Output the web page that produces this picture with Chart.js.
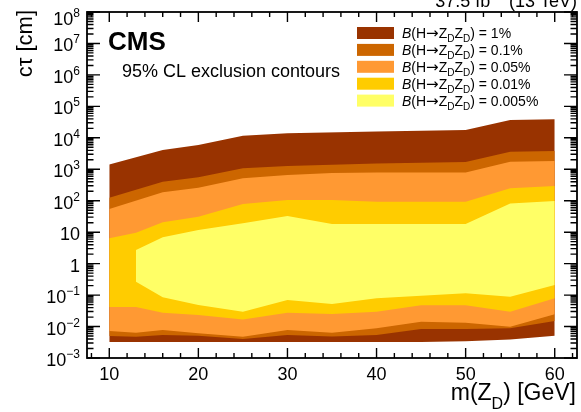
<!DOCTYPE html>
<html>
<head>
<meta charset="utf-8">
<script src="https://cdn.jsdelivr.net/npm/chart.js@4.4.1/dist/chart.umd.min.js"></script>
<style>
    html, body { margin: 0; padding: 0; background: #fff; }
    canvas { display: block; }
</style>
</head>
<body>
<canvas id="contourChart" width="581" height="412"></canvas>
<script>
// Contour boundaries, m(Z_D) in GeV and c*tau in cm
// B = 1%
const M_UP_1 = [10, 16, 20, 25, 30, 40, 50, 55, 60];
const CT_UP_1 = [1430, 4100, 5900, 11700, 13900, 15800, 17700, 36800, 38700];
const M_LO_1 = [10, 45, 50, 55, 60];
const CT_LO_1 = [3.2e-3, 3.2e-3, 3.4e-3, 3.9e-3, 5.1e-3];

// B = 0.1%
const M_UP_01 = [10, 16, 20, 25, 30, 40, 50, 55, 60];
const CT_UP_01 = [124, 402, 555, 1070, 1270, 1520, 1700, 3610, 3800];
const M_LO_01 = [10, 13, 16, 20, 25, 30, 35, 40, 45, 50, 55, 60];
const CT_LO_01 = [5.0e-3, 4.7e-3, 5.4e-3, 5.1e-3, 4.0e-3, 5.4e-3, 4.8e-3, 5.4e-3, 8.3e-3, 8.3e-3, 8.8e-3, 1.5e-2];

// B = 0.05%
const M_UP_005 = [10, 16, 20, 25, 30, 35, 40, 45, 50, 55, 60];
const CT_UP_005 = [54.5, 185, 259, 515, 656, 760, 788, 788, 788, 1740, 1830];
const M_LO_005 = [10, 13, 16, 20, 25, 30, 35, 40, 45, 50, 55, 60];
const CT_LO_005 = [7.2e-3, 6.35e-3, 7.7e-3, 6.1e-3, 4.7e-3, 7.7e-3, 6.4e-3, 8.9e-3, 1.42e-2, 1.32e-2, 9.9e-3, 2.44e-2];

// B = 0.01%
const M_UP_001 = [10, 13, 16, 20, 25, 30, 35, 40, 45, 50, 55, 60];
const CT_UP_001 = [6.37, 9.6, 20.6, 31, 78.6, 105, 105, 93, 93, 93, 248, 293];
const M_LO_001 = [10, 13, 16, 20, 25, 30, 35, 40, 45, 50, 55, 60];
const CT_LO_001 = [0.0417, 0.0417, 0.0275, 0.0232, 0.0169, 0.0275, 0.025, 0.0296, 0.0472, 0.0472, 0.0296, 0.0788];

// B = 0.005%
const M_UP_0005 = [13, 16, 20, 25, 30, 35, 40, 45, 50, 55, 60];
const CT_UP_0005 = [2.7, 6.86, 11.7, 19.1, 32.6, 18.2, 18.2, 18.2, 18.2, 81.5, 97.8];
const M_LO_0005 = [13, 16, 20, 25, 30, 35, 40, 45, 50, 55, 60];
const CT_LO_0005 = [0.265, 0.0848, 0.0483, 0.0296, 0.0697, 0.0519, 0.0788, 0.0953, 0.114, 0.0887, 0.209];

// Legend and axis labels
const BR_LABELS = ['1%', '0.1%', '0.05%', '0.01%', '0.005%'];
const BR_COLORS = ['#993300', '#cc6600', '#ff9933', '#ffcc00', '#ffff66'];
const X_TICKS = [10, 20, 30, 40, 50, 60];
const Y_EXPONENTS = [-3, -2, -1, 0, 1, 2, 3, 4, 5, 6, 7, 8];

const FONT = '"Liberation Sans", Arial, Helvetica, sans-serif';

function toPoints(xs, ys) {
    return xs.map((x, i) => ({ x: x, y: ys[i] }));
}

// Two datasets per contour: upper edge filled down to lower edge
function band(mUp, ctUp, mLo, ctLo, color, order) {
    return [
        {
            data: toPoints(mUp, ctUp),
            fill: '+1',
            backgroundColor: color,
            borderColor: 'transparent',
            borderWidth: 0,
            pointRadius: 0,
            order: order,
        },
        {
            data: toPoints(mLo, ctLo),
            fill: false,
            borderColor: 'transparent',
            borderWidth: 0,
            pointRadius: 0,
            order: order,
        },
    ];
}

// Draw a run of text pieces (for sub/superscripts)
function drawRich(ctx, pieces, x, y, align) {
    let total = 0;
    pieces.forEach((p) => {
        ctx.font = p.font;
        p.w = ctx.measureText(p.t).width;
        total += p.w;
    });
    let cx = x;
    if (align === 'right') cx = x - total;
    if (align === 'center') cx = x - total / 2;
    ctx.textAlign = 'left';
    pieces.forEach((p) => {
        ctx.font = p.font;
        ctx.fillText(p.t, cx, y + (p.dy || 0));
        cx += p.w;
    });
}

function yLabelPieces(e) {
    const big = '18px ' + FONT;
    const small = '12px ' + FONT;
    if (e === 0) return [{ t: '1', font: big }];
    if (e === 1) return [{ t: '10', font: big }];
    const exp = e < 0 ? '\u2212' + Math.abs(e) : String(e);
    return [{ t: '10', font: big }, { t: exp, font: small, dy: -8 }];
}

// ROOT-style frame, ticks, labels and texts
const cmsFrame = {
    id: 'cmsFrame',
    afterDraw(chart) {
        const { ctx, chartArea: a, scales } = chart;
        const xs = scales.x;
        const ys = scales.y;
        ctx.save();
        ctx.fillStyle = '#000';
        ctx.strokeStyle = '#000';

        // frame
        ctx.lineWidth = 1.8;
        ctx.strokeRect(a.left, a.top, a.right - a.left, a.bottom - a.top);

        // x ticks (bottom and top)
        ctx.lineWidth = 1.4;
        ctx.beginPath();
        for (let v = 8; v <= 62; v += 2) {
            const px = xs.getPixelForValue(v);
            const len = v % 10 === 0 ? 10 : 5;
            ctx.moveTo(px, a.bottom);
            ctx.lineTo(px, a.bottom - len);
            ctx.moveTo(px, a.top);
            ctx.lineTo(px, a.top + len);
        }
        // y ticks (left and right)
        Y_EXPONENTS.forEach((e) => {
            for (let k = 1; k <= 9; k++) {
                const v = k * Math.pow(10, e);
                if (v > 1e8 * 1.0001) continue;
                const py = ys.getPixelForValue(v);
                const len = k === 1 ? 13 : 6.5;
                ctx.moveTo(a.left, py);
                ctx.lineTo(a.left + len, py);
                ctx.moveTo(a.right, py);
                ctx.lineTo(a.right - len, py);
            }
        });
        ctx.stroke();

        // tick labels
        ctx.textBaseline = 'alphabetic';
        X_TICKS.forEach((v) => {
            drawRich(ctx, [{ t: String(v), font: '18px ' + FONT }], xs.getPixelForValue(v), a.bottom + 22, 'center');
        });
        Y_EXPONENTS.forEach((e) => {
            const py = ys.getPixelForValue(Math.pow(10, e));
            const shift = e === 8 ? 13 : 8;
            drawRich(ctx, yLabelPieces(e), a.left - 7, py + shift, 'right');
        });

        // axis titles
        drawRich(ctx, [
            { t: 'm(Z', font: '23px ' + FONT },
            { t: 'D', font: '16px ' + FONT, dy: 9 },
            { t: ') [GeV]', font: '23px ' + FONT },
        ], a.right - 1, 400, 'right');

        ctx.save();
        ctx.translate(32, 10);
        ctx.rotate(-Math.PI / 2);
        drawRich(ctx, [{ t: 'c\u03c4 [cm]', font: '22px ' + FONT }], 0, 0, 'right');
        ctx.restore();

        // labels inside frame
        drawRich(ctx, [{ t: 'CMS', font: 'bold 26px ' + FONT }], 108, 50, 'left');
        drawRich(ctx, [{ t: '95% CL exclusion contours', font: '18px ' + FONT }], 122, 77, 'left');
        drawRich(ctx, [
            { t: '37.5 fb', font: '18px ' + FONT },
            { t: '\u22121', font: '12px ' + FONT, dy: -8 },
            { t: ' (13 TeV)', font: '18px ' + FONT },
        ], a.right, 7, 'right');

        // legend
        BR_LABELS.forEach((lab, i) => {
            const cy = 33 + i * 16.9;
            ctx.fillStyle = BR_COLORS[i];
            ctx.fillRect(357, cy - 6, 37, 12);
            ctx.fillStyle = '#000';
            drawRich(ctx, [
                { t: 'B', font: 'italic 14px ' + FONT },
                { t: '(H', font: '14px ' + FONT },
                { t: '\u2192', font: '15px "DejaVu Sans", sans-serif' },
                { t: 'Z', font: '14px ' + FONT },
                { t: 'D', font: '10px ' + FONT, dy: 4 },
                { t: 'Z', font: '14px ' + FONT },
                { t: 'D', font: '10px ' + FONT, dy: 4 },
                { t: ') = ' + lab, font: '14px ' + FONT },
            ], 402, cy + 5, 'left');
        });

        ctx.restore();
    },
};

const datasets = [].concat(
    band(M_UP_0005, CT_UP_0005, M_LO_0005, CT_LO_0005, BR_COLORS[4], 0),
    band(M_UP_001, CT_UP_001, M_LO_001, CT_LO_001, BR_COLORS[3], 1),
    band(M_UP_005, CT_UP_005, M_LO_005, CT_LO_005, BR_COLORS[2], 2),
    band(M_UP_01, CT_UP_01, M_LO_01, CT_LO_01, BR_COLORS[1], 3),
    band(M_UP_1, CT_UP_1, M_LO_1, CT_LO_1, BR_COLORS[0], 4)
);

new Chart(document.getElementById('contourChart').getContext('2d'), {
    type: 'line',
    data: { datasets: datasets },
    options: {
        responsive: false,
        animation: false,
        layout: { padding: { left: 87, right: 4, top: 12, bottom: 54 } },
        elements: { line: { tension: 0 } },
        plugins: {
            legend: { display: false },
            tooltip: { enabled: false },
            filler: { drawTime: 'beforeDatasetDraw', propagate: false },
        },
        scales: {
            x: { type: 'linear', min: 7.5, max: 62.5, display: false },
            y: { type: 'logarithmic', min: 1e-3, max: 1e8, display: false },
        },
    },
    plugins: [cmsFrame],
});
</script>
</body>
</html>
